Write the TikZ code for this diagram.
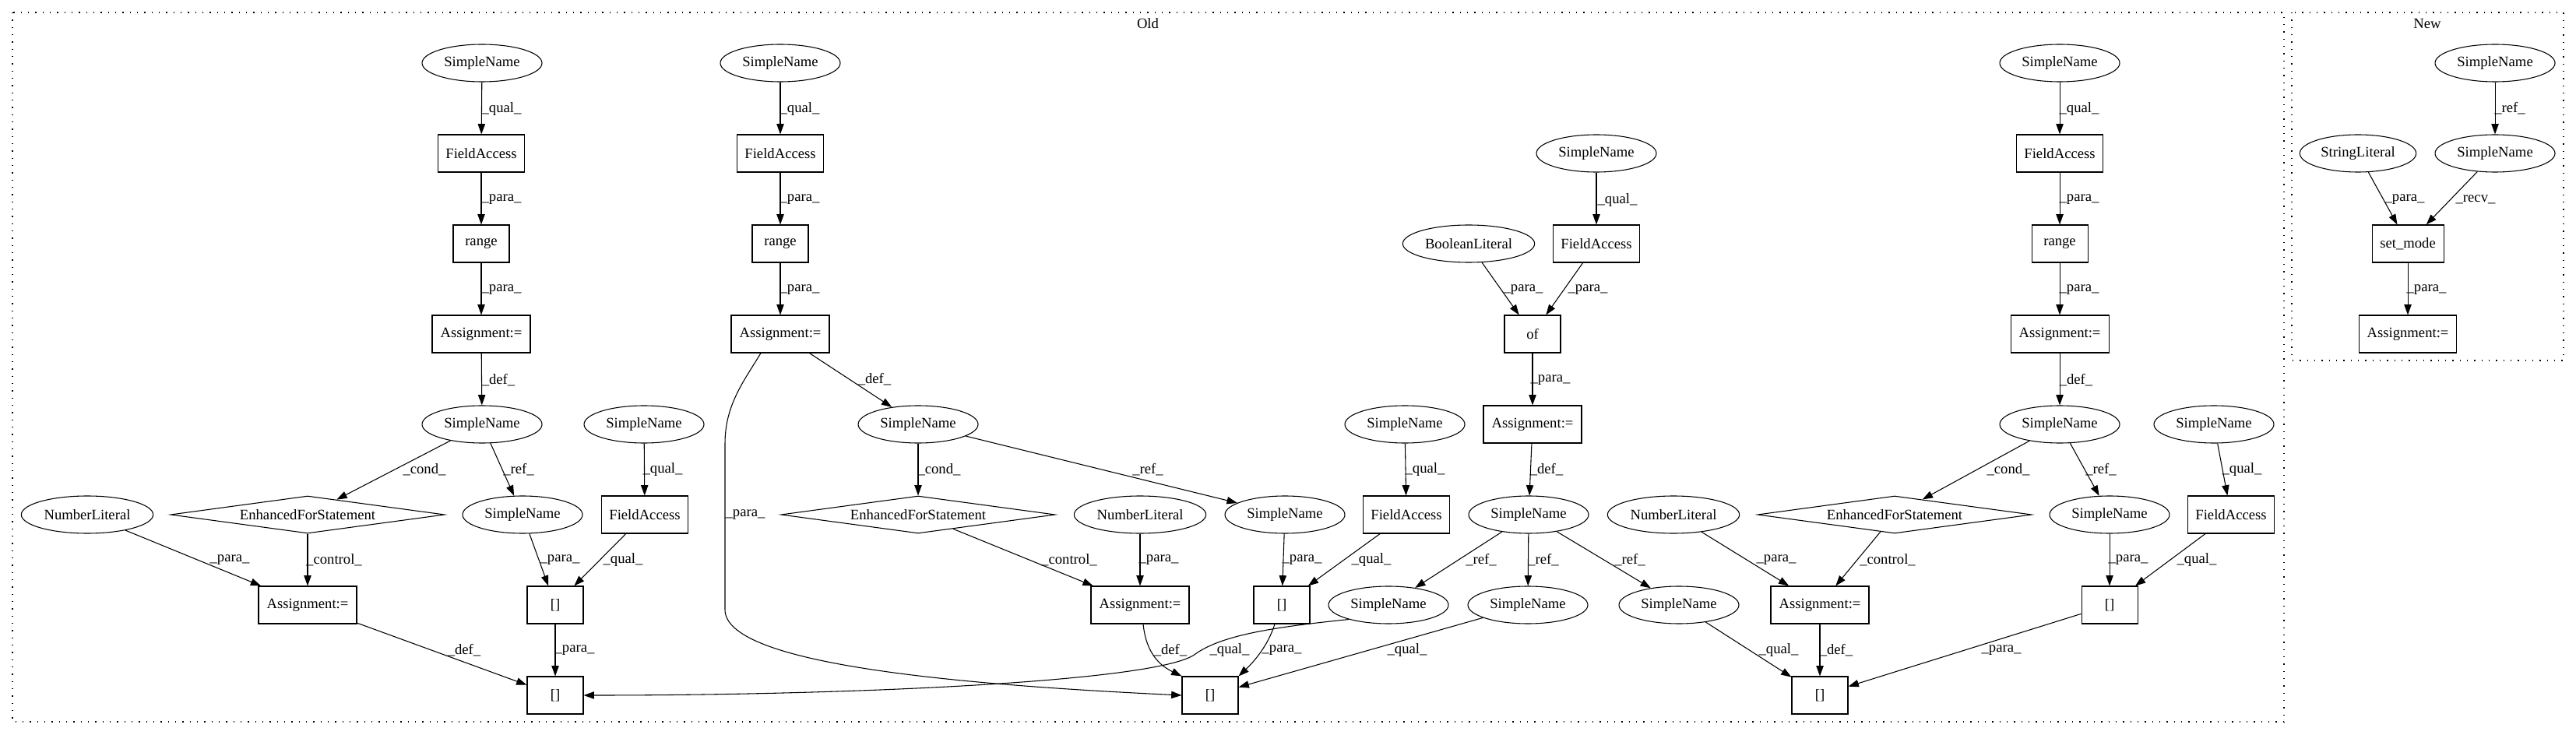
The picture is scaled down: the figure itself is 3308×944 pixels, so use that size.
\documentclass[tikz,border=0pt]{standalone}
\usepackage{fontspec}
\setmainfont{Liberation Serif}
\usetikzlibrary{shapes.geometric,arrows.meta,calc}
\tikzset{
  every node/.style={font=\fontsize{14pt}{16pt}\selectfont},
  sn/.style={ellipse, draw, line width=0.8pt, minimum width=115.5pt, minimum height=36pt, inner sep=0pt},
  lit/.style={ellipse, draw, line width=0.8pt, minimum width=127pt, minimum height=36pt, inner sep=0pt},
  bx/.style={rectangle, draw, line width=0.8pt, minimum height=36pt, inner sep=0pt},
  dia/.style={diamond, draw, line width=0.8pt, aspect=7.3, minimum width=264pt, minimum height=36pt, inner sep=0pt},
  edge/.style={-{Triangle[length=10pt,width=7pt]}, line width=0.8pt},
  lbl/.style={inner sep=0pt},
  clus/.style={draw, line width=0.9pt, dash pattern=on 1pt off 6pt}
}
\begin{document}
\begin{tikzpicture}[x=0.75pt,y=-0.75pt]
\useasboundingbox (0,0) rectangle (3308,944);
% clusters
\draw[clus] (16,16) rectangle (2933,927);
\node[lbl] (oldlbl) at (1474,30) {Old};
\draw[clus] (2943,16) rectangle (3292,463);
\node[lbl] (newlbl) at (3117,30) {New};

% ---------- Column A ----------
\node[sn] (sa1) at (619,81) {SimpleName};
\node[bx, minimum width=83pt] (faa) at (618,197) {FieldAccess};
\node[bx, minimum width=54pt] (ra) at (618,313) {range};
\node[bx, minimum width=94.5pt] (asa) at (618,429) {Assignment:=};
\node[sn] (sa2) at (619,545) {SimpleName};
\node[sn] (sa3) at (827,545) {SimpleName};
\node[dia] (efa) at (395,661) {EnhancedForStatement};
\node[lit] (nla) at (112,661) {NumberLiteral};
\node[sn] (sa4) at (671,661) {SimpleName};
\node[bx, minimum width=83pt] (faa2) at (828,661) {FieldAccess};
\node[bx, minimum width=94.5pt] (asa2) at (395,777) {Assignment:=};
\node[bx, minimum width=54pt] (bra1) at (713,777) {[]};
\node[bx, minimum width=54pt] (bra2) at (713,893) {[]};

% ---------- Column B ----------
\node[sn] (sb1) at (1002,81) {SimpleName};
\node[bx, minimum width=83pt] (fab) at (1002,197) {FieldAccess};
\node[bx, minimum width=54pt] (rb) at (1002,313) {range};
\node[bx, minimum width=94.5pt] (asb) at (1002,429) {Assignment:=};
\node[sn] (sb2) at (1179,545) {SimpleName};
\node[dia] (efb) at (1179,661) {EnhancedForStatement};
\node[lit] (nlb) at (1464,661) {NumberLiteral};
\node[sn] (sb3) at (1650,661) {SimpleName};
\node[sn] (sb4) at (1804,545) {SimpleName};
\node[bx, minimum width=83pt] (fab2) at (1806,661) {FieldAccess};
\node[bx, minimum width=94.5pt] (asb2) at (1464,777) {Assignment:=};
\node[bx, minimum width=54pt] (brb1) at (1646,777) {[]};
\node[sn] (sb5) at (1783,777) {SimpleName};
\node[bx, minimum width=54pt] (brb2) at (1554,893) {[]};

% ---------- Column C ----------
\node[sn] (sc1) at (2050,197) {SimpleName};
\node[lit] (bl) at (1886,313) {BooleanLiteral};
\node[bx, minimum width=83pt] (fac) at (2050,313) {FieldAccess};
\node[bx, minimum width=54pt] (of) at (1968,429) {of};
\node[bx, minimum width=94.5pt] (asc) at (1968,545) {Assignment:=};
\node[sn] (sc2) at (1963,661) {SimpleName};
\node[sn] (sc3) at (1962,777) {SimpleName};
\node[sn] (sc4) at (2156,777) {SimpleName};

% ---------- Column D ----------
\node[sn] (sd1) at (2645,81) {SimpleName};
\node[bx, minimum width=83pt] (fad) at (2645,197) {FieldAccess};
\node[bx, minimum width=54pt] (rd) at (2645,313) {range};
\node[bx, minimum width=94.5pt] (asd) at (2645,429) {Assignment:=};
\node[sn] (sd2) at (2645,545) {SimpleName};
\node[dia] (efd) at (2433,661) {EnhancedForStatement};
\node[lit] (nld) at (2149,661) {NumberLiteral};
\node[sn] (sd3) at (2709,661) {SimpleName};
\node[sn] (sd4) at (2843,545) {SimpleName};
\node[bx, minimum width=83pt] (fad2) at (2865,661) {FieldAccess};
\node[bx, minimum width=94.5pt] (asd2) at (2337,777) {Assignment:=};
\node[bx, minimum width=54pt] (brd1) at (2709,777) {[]};
\node[bx, minimum width=54pt] (brd2) at (2337,893) {[]};

% ---------- New ----------
\node[sn] (sn1) at (3204,81) {SimpleName};
\node[sn, minimum width=112pt] (sl) at (3028,197) {StringLiteral};
\node[sn] (sn2) at (3204,197) {SimpleName};
\node[bx, minimum width=69pt] (sm) at (3092,313) {set\_mode};
\node[bx, minimum width=94pt] (asn) at (3092,429) {Assignment:=};

% ---------- Edges column A ----------
\draw[edge] (644,140) node[lbl]{\_qual\_} (sa1) -- (faa);
\draw[edge] (644,256) node[lbl]{\_para\_} (faa) -- (ra);
\draw[edge] (644,372) node[lbl]{\_para\_} (ra) -- (asa);
\draw[edge] (640,488) node[lbl]{\_def\_} (asa) -- (sa2);
\draw[edge] (545,603) node[lbl]{\_cond\_} (sa2) -- (efa);
\draw[edge] (666,603) node[lbl]{\_ref\_} (sa2) -- (sa4);
\draw[edge] (851,603) node[lbl]{\_qual\_} (sa3) -- (faa2);
\draw[edge] (295,719) node[lbl]{\_para\_} (nla) -- (asa2);
\draw[edge] (429,719) node[lbl]{\_control\_} (efa) -- (asa2);
\draw[edge] (719,719) node[lbl]{\_para\_} (sa4) -- (bra1);
\draw[edge] (800,719) node[lbl]{\_qual\_} (faa2) -- (bra1);
\draw[edge] (596,835) node[lbl]{\_def\_} (asa2) -- (bra2);
\draw[edge] (738,835) node[lbl]{\_para\_} (bra1) -- (bra2);

% ---------- Edges column B ----------
\draw[edge] (1027,140) node[lbl]{\_qual\_} (sb1) -- (fab);
\draw[edge] (1027,256) node[lbl]{\_para\_} (fab) -- (rb);
\draw[edge] (1027,372) node[lbl]{\_para\_} (rb) -- (asb);
\draw[edge] (1123,487) node[lbl]{\_def\_} (asb) -- (sb2);
\draw[edge] (957,661) node[lbl]{\_para\_} ($(asb.south)+(-25,0)$) .. controls (955,490) and (931,520) .. (931,570) -- (931,783) .. controls (931,850) and (1200,878) .. (brb2.west);
\draw[edge] (1206,603) node[lbl]{\_cond\_} (sb2) -- (efb);
\draw[edge] (1474,603) node[lbl]{\_ref\_} (sb2) -- (sb3);
\draw[edge] (1830,603) node[lbl]{\_qual\_} (sb4) -- (fab2);
\draw[edge] (1373,719) node[lbl]{\_control\_} (efb) -- (asb2);
\draw[edge] (1488,719) node[lbl]{\_para\_} (nlb) -- (asb2);
\draw[edge] (1672,719) node[lbl]{\_para\_} (sb3) -- (brb1);
\draw[edge] (1761,719) node[lbl]{\_qual\_} (fab2) -- (brb1);
\draw[edge] (1503,835) node[lbl]{\_def\_} ($(asb2.south)+(4,0)$) .. controls (1472,840) and (1490,855) .. (brb2.north west);
\draw[edge] (1646,835) node[lbl]{\_para\_} ($(brb1.south)+(-9,0)$) .. controls (1628,830) and (1610,850) .. (brb2.north east);
\draw[edge] (1579,835) node[lbl]{\_qual\_} (sb5.200) .. controls (1640,805) and (1570,815) .. (1535,840) .. controls (1490,875) and (1100,893) .. (bra2.east);
\draw[edge] (1807,835) node[lbl]{\_qual\_} (sc3) -- (brb2);

% ---------- Edges column C ----------
\draw[edge] (2077,257) node[lbl]{\_qual\_} (sc1) -- (fac);
\draw[edge] (1956,372) node[lbl]{\_para\_} (bl) -- (of);
\draw[edge] (2039,372) node[lbl]{\_para\_} (fac) -- (of);
\draw[edge] (1991,488) node[lbl]{\_para\_} (of) -- (asc);
\draw[edge] (1986,603) node[lbl]{\_def\_} (asc) -- (sc2);
\draw[edge] (1902,719) node[lbl]{\_ref\_} (sc2) -- (sb5);
\draw[edge] (1982,719) node[lbl]{\_ref\_} (sc2) -- (sc3);
\draw[edge] (2093,719) node[lbl]{\_ref\_} (sc2) -- (sc4);
\draw[edge] (2284,835) node[lbl]{\_qual\_} (sc4) -- (brd2);

% ---------- Edges column D ----------
\draw[edge] (2670,140) node[lbl]{\_qual\_} (sd1) -- (fad);
\draw[edge] (2670,256) node[lbl]{\_para\_} (fad) -- (rd);
\draw[edge] (2670,372) node[lbl]{\_para\_} (rd) -- (asd);
\draw[edge] (2666,488) node[lbl]{\_def\_} (asd) -- (sd2);
\draw[edge] (2579,603) node[lbl]{\_cond\_} (sd2) -- (efd);
\draw[edge] (2698,603) node[lbl]{\_ref\_} (sd2) -- (sd3);
\draw[edge] (2879,603) node[lbl]{\_qual\_} (sd4) -- (fad2);
\draw[edge] (2281,719) node[lbl]{\_para\_} (nld) -- (asd2);
\draw[edge] (2424,719) node[lbl]{\_control\_} (efd) -- (asd2);
\draw[edge] (2733,719) node[lbl]{\_para\_} (sd3) -- (brd1);
\draw[edge] (2821,719) node[lbl]{\_qual\_} (fad2) -- (brd1);
\draw[edge] (2358,835) node[lbl]{\_def\_} (asd2) -- (brd2);
\draw[edge] (2570,835) node[lbl]{\_para\_} (brd1) -- (brd2);

% ---------- Edges New ----------
\draw[edge] (3223,139) node[lbl]{\_ref\_} (sn1) -- (sn2);
\draw[edge] (3088,256) node[lbl]{\_para\_} (sl) -- (sm);
\draw[edge] (3179,256) node[lbl]{\_recv\_} (sn2) -- (sm);
\draw[edge] (3116,372) node[lbl]{\_para\_} (sm) -- (asn);
\end{tikzpicture}
\end{document}
